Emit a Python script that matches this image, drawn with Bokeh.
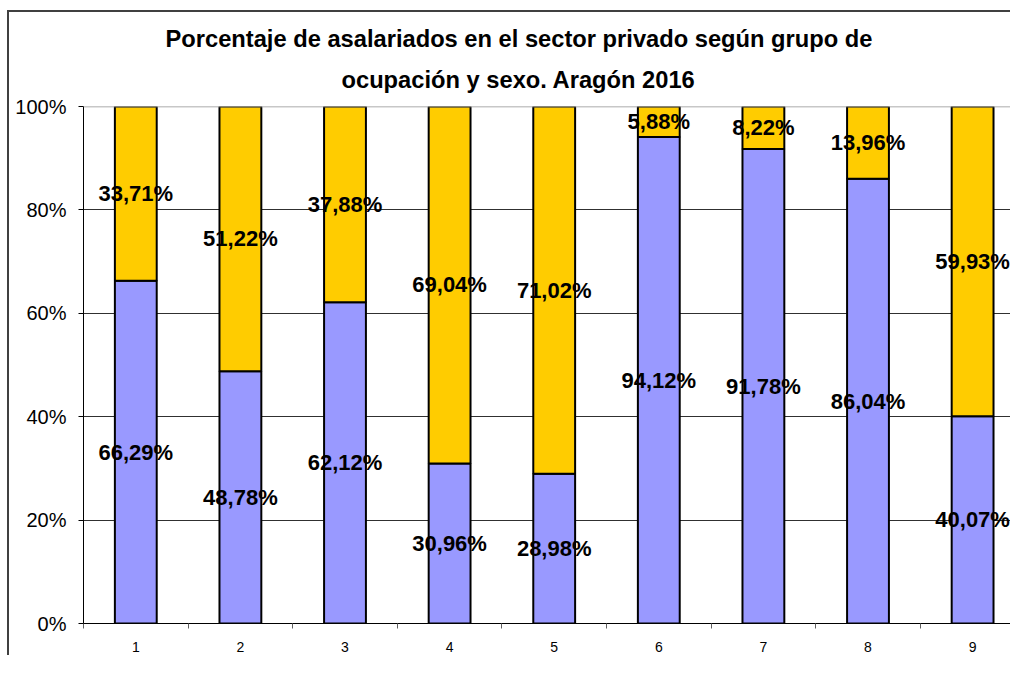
from bokeh.plotting import figure
from bokeh.models import ColumnDataSource, FixedTicker, Title, Span
from bokeh.core.properties import value
from bokeh.embed import file_html
from bokeh.resources import INLINE

# ---- data ----
groups = [1, 2, 3, 4, 5, 6, 7, 8, 9]
hombres = [66.29, 48.78, 62.12, 30.96, 28.98, 94.12, 91.78, 86.04, 40.07]
mujeres = [33.71, 51.22, 37.88, 69.04, 71.02, 5.88, 8.22, 13.96, 59.93]
title_lines = ["Porcentaje de asalariados en el sector privado según grupo de",
               "ocupación y sexo. Aragón 2016"]
y_ticks = [0, 20, 40, 60, 80, 100]

FONT = "Liberation Sans"

def fmt(v):
    return f"{v:.2f}".replace(".", ",") + "%"

tops = [100.0 for _ in groups]
src = ColumnDataSource(dict(
    x=groups,
    h=hombres,
    m=mujeres,
    top=tops,
    h_mid=[v / 2 for v in hombres],
    m_mid=[h + m / 2 for h, m in zip(hombres, mujeres)],
    h_lab=[fmt(v) for v in hombres],
    m_lab=[fmt(v) for v in mujeres],
))

W, H = 1003, 645
p = figure(width=W, height=H, output_backend="svg", toolbar_location=None,
           x_range=(0.5, 0.5 + (W - 74) / 104.6), y_range=(0, 100))
p.min_border_left = 74
p.min_border_right = 0
p.min_border_top = 94
p.min_border_bottom = 34
p.outline_line_color = None
p.background_fill_color = "white"
p.border_fill_color = "white"
p.styles = {"border-top": "2px solid #404040", "border-left": "2px solid #404040",
            "margin-left": "7px", "margin-top": "10px"}

p.vbar(x="x", width=0.4, bottom=0, top="h", source=src,
       fill_color="#9999FF", line_color="black", line_width=2)
p.vbar(x="x", width=0.4, bottom="h", top="top", source=src,
       fill_color="#FFCC00", line_color="black", line_width=2)

for ycol, tcol in (("h_mid", "h_lab"), ("m_mid", "m_lab")):
    p.text(x="x", y=ycol, text=tcol, source=src, text_align="center",
           text_baseline="middle", text_font=value(FONT), text_font_size="22px",
           text_font_style="bold", text_color="black")

# grid
p.xgrid.visible = False
p.ygrid.ticker = FixedTicker(ticks=[20, 40, 60, 80])
p.ygrid.grid_line_color = "#303030"
p.ygrid.grid_line_width = 1
p.ygrid.level = "underlay"
p.add_layout(Span(location=100, dimension="width", line_color="#909090", line_width=1.5))

# y axis
p.yaxis.ticker = FixedTicker(ticks=y_ticks)
p.yaxis.major_label_overrides = {t: f"{t}%" for t in y_ticks}
p.yaxis.major_label_text_font = FONT
p.yaxis.major_label_text_font_size = "20px"
p.yaxis.major_label_text_color = "black"
p.yaxis.major_label_standoff = 12
p.yaxis.major_tick_out = 5
p.yaxis.major_tick_in = 0
p.yaxis.minor_tick_line_color = None
p.yaxis.axis_line_color = "black"
p.yaxis.major_tick_line_color = "black"

# x axis
p.xaxis.ticker = FixedTicker(ticks=groups, minor_ticks=[g - 0.5 for g in groups] + [9.5])
p.xaxis.major_tick_line_color = None
p.xaxis.minor_tick_line_color = "#606060"
p.xaxis.minor_tick_out = 5
p.xaxis.minor_tick_in = 0
p.xaxis.major_label_text_font = FONT
p.xaxis.major_label_text_font_size = "14px"
p.xaxis.major_label_text_color = "black"
p.xaxis.major_label_standoff = 12
p.xaxis.axis_line_color = "black"

# title (two lines), added bottom line first so it sits nearest the plot
for txt, so, off in zip(reversed(title_lines), (27, 0), (258, 82)):
    p.add_layout(Title(text=txt, align="left", offset=off, standoff=so,
                       text_font=FONT, text_font_size="23.7px", text_font_style="bold",
                       text_color="black"), "above")

open("out.html", "w").write(file_html(p, INLINE))
